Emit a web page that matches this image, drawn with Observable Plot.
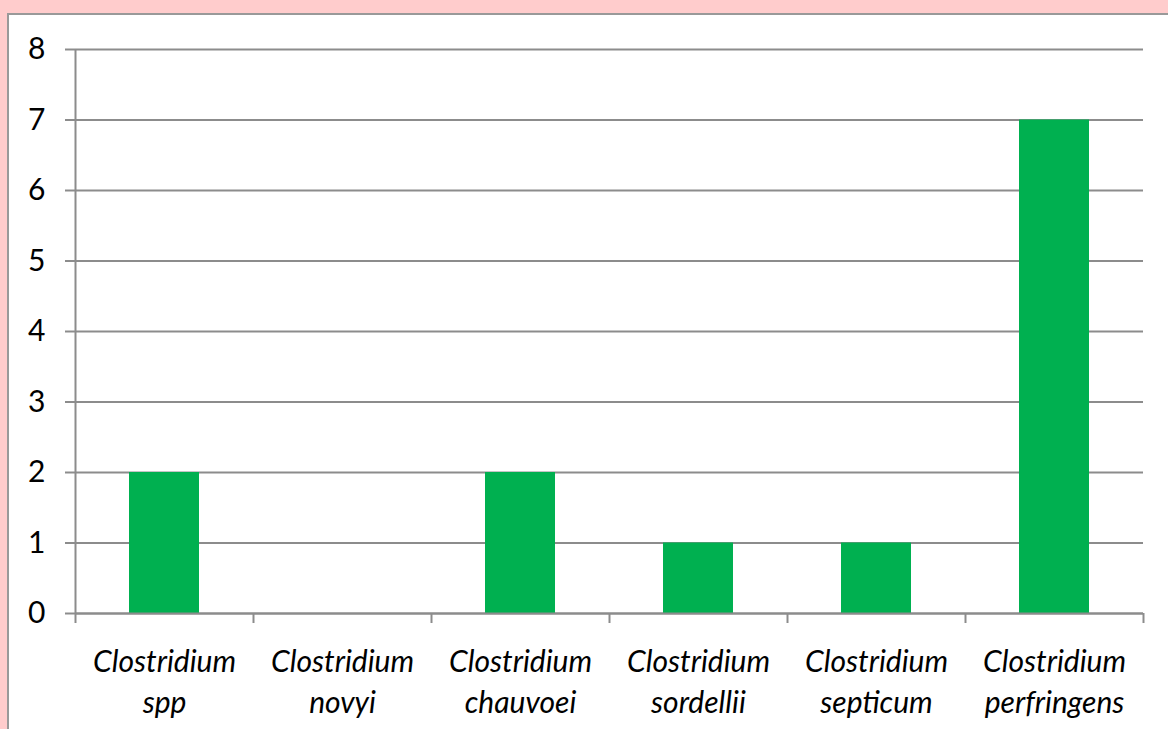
<!DOCTYPE html>
<html>
<head>
<meta charset="utf-8">
<script src="https://cdn.jsdelivr.net/npm/d3@7"></script>
<script src="https://cdn.jsdelivr.net/npm/@observablehq/plot@0.6"></script>
<style>
  html, body { margin: 0; padding: 0; background: #FFCCCC; overflow: hidden; }
  #box { position: absolute; left: 7px; top: 13px; width: 1200px; height: 760px; background: #ffffff; border: 2px solid #999999; }
  #chart { position: absolute; left: 0; top: 0; }
</style>
</head>
<body>
<div id="box"></div>
<div id="chart"></div>
<script>
const categories = ["Clostridium\nspp", "Clostridium\nnovyi", "Clostridium\nchauvoei", "Clostridium\nsordellii", "Clostridium\nsepticum", "Clostridium\nperfringens"];
const values = [2, 0, 2, 1, 1, 7];
const yTicks = [0, 1, 2, 3, 4, 5, 6, 7, 8];

const data = categories.map((c, i) => ({i, label: c, value: values[i]}));
const boundaries = d3.range(categories.length + 1);
const gray = "#8c8c8c";
const font = "Lato, 'Open Sans', sans-serif";

const chart = Plot.plot({
  width: 1168,
  height: 729,
  marginLeft: 75,
  marginRight: 25,
  marginTop: 49,
  marginBottom: 116,
  style: {background: "transparent", fontFamily: font, color: "#000"},
  x: {type: "linear", domain: [0, categories.length], axis: null},
  y: {domain: [0, 8], axis: null},
  marks: [
    Plot.gridY(yTicks, {stroke: gray, strokeOpacity: 1, strokeWidth: 2}),
    Plot.axisY(yTicks, {tickSize: 10, tickPadding: 20, fontSize: 30, stroke: gray, strokeWidth: 2, fill: "#000", label: null, tickFormat: d => String(d)}),
    Plot.ruleX([0], {stroke: gray, strokeWidth: 2}),
    Plot.rectY(data, {x1: "i", x2: d => d.i + 1, y: "value", insetLeft: 54, insetRight: 54, fill: "#00B050"}),
    Plot.ruleY([0], {stroke: gray, strokeWidth: 2}),
    Plot.axisX(boundaries, {tickSize: 10, stroke: gray, strokeWidth: 2, label: null, tickFormat: () => ""}),
    Plot.text(data, {x: d => d.i + 0.5, y: 0, text: "label", lineAnchor: "top", dy: 29, fontSize: 30, fontStyle: "italic", lineHeight: 1.38, fill: "#000", style: "letter-spacing: 0.5px"})
  ]
});
document.getElementById("chart").appendChild(chart);
</script>
</body>
</html>
